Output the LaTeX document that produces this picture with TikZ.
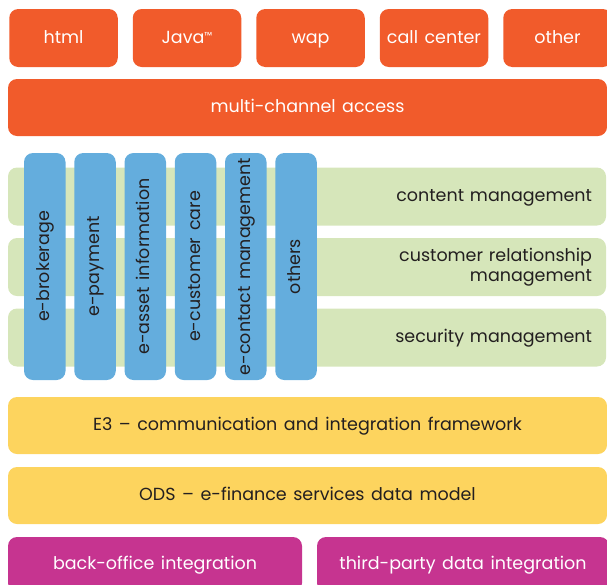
\documentclass[tikz,border=0pt]{standalone}
\usepackage{fontspec}
\setmainfont{Poppins}[WordSpace=1.4]
\usepackage{tikz}
\usetikzlibrary{positioning}
\definecolor{chorange}{RGB}{241,91,43}
\definecolor{svgreen}{RGB}{214,230,186}
\definecolor{appblue}{RGB}{100,173,221}
\definecolor{fwyellow}{RGB}{253,212,94}
\definecolor{intmagenta}{RGB}{198,52,144}
\definecolor{txtdark}{RGB}{35,31,32}

\begin{document}
\begin{tikzpicture}[x=1pt,y=-1pt,node distance=14.6pt,font=\fontsize{17.5}{20}\selectfont]
    \tikzstyle{line}=[text height=12.5pt,text depth=3.5pt]
    \tikzstyle{channel}=[rectangle,line,text depth=2pt,rounded corners=9pt,fill=chorange,text=white,minimum width=108.5pt,minimum height=58pt,inner sep=0pt]
    \tikzstyle{bar}=[rectangle,line,rounded corners=9pt,minimum width=599pt,minimum height=57pt,inner sep=0pt]
    \tikzstyle{service}=[rectangle,rounded corners=9pt,fill=svgreen,text=txtdark,text width=570pt,align=right,inner xsep=14pt,inner ysep=0pt,minimum height=58pt]
    \tikzstyle{app}=[rectangle,line,rounded corners=9pt,fill=appblue,text=txtdark,rotate=90,minimum width=227pt,minimum height=41.5pt,inner sep=0pt]
    \tikzstyle{integ}=[rectangle,line,rounded corners=9pt,fill=intmagenta,text=white,minimum height=55pt,inner sep=0pt]
    \useasboundingbox (0,0) rectangle (607,584);
    \clip (0,0) rectangle (607,584);
    % access channels
    \node[channel] (html) at (63.5,38) {html};
    \node[channel,right=of html] (java) {Java{\fontsize{10}{10}\selectfont\raisebox{3.5pt}{™}}};
    \node[channel,right=of java] (wap) {wap};
    \node[channel,right=of wap] (callcenter) {call center};
    \node[channel,right=of callcenter] (other) {other};
    \node[bar,fill=chorange,text=white] (access) at (307.5,107.5) {multi-channel access};
    % horizontal services
    \node[service,line] (content) at (307,196.5) {content management};
    \node[service] (crm) at (307,267) {customer relationship\\management};
    \node[service,line] (security) at (307,337.5) {security management};
    % vertical applications
    \begin{scope}
      \node[app] (brokerage) at (44.75,266.5) {e-brokerage};
      \node[app] (payment) at (95,266.5) {e-payment};
      \node[app] (asset) at (145.25,266.5) {e-asset information};
      \node[app] (care) at (195.5,266.5) {e-customer care};
      \node[app] (contact) at (245.75,266.5) {e-contact management};
      \node[app] (others) at (296,266.5) {others};
    \end{scope}
    % framework and data model
    \node[bar,fill=fwyellow,text=txtdark] (framework) at (307.5,425.5) {E3 -- communication and integration framework};
    \node[bar,fill=fwyellow,text=txtdark] (datamodel) at (307.5,495.5) {ODS -- e-finance services data model};
    % integration
    \node[integ,minimum width=294pt] (backoffice) at (155,564.5) {back-office integration};
    \node[integ,minimum width=292pt] (thirdparty) at (463,564.5) {third-party data integration};
\end{tikzpicture}
\end{document}
